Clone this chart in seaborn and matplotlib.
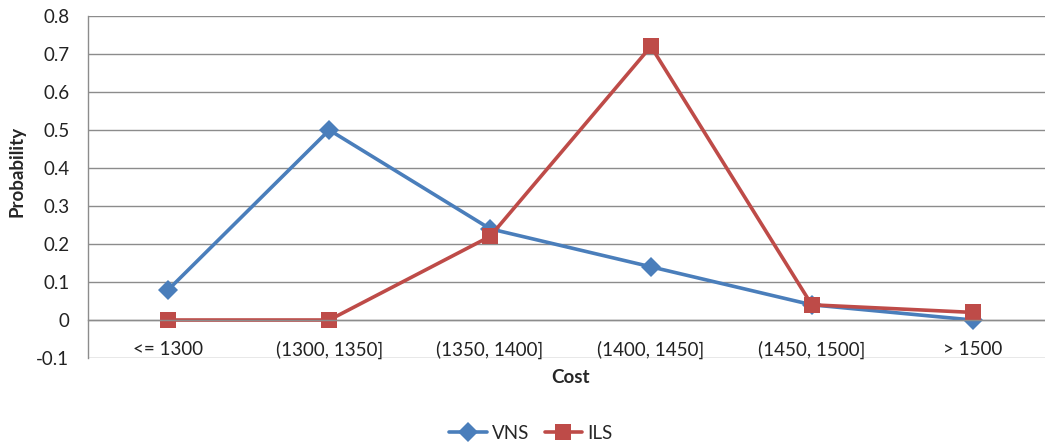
# line chart: probability of cost ranges, VNS vs ILS
import pandas as pd
import seaborn as sns
import matplotlib.pyplot as plt
from matplotlib.ticker import FixedLocator, FuncFormatter

sns.set_style("white")
plt.rcParams["font.family"] = ["Lato", "DejaVu Sans"]

categories = ["<= 1300", "(1300, 1350]", "(1350, 1400]", "(1400, 1450]", "(1450, 1500]", "> 1500"]
vns = [0.08, 0.50, 0.24, 0.14, 0.04, 0.00]
ils = [0.00, 0.00, 0.22, 0.72, 0.04, 0.02]
y_ticks = [-0.1, 0, 0.1, 0.2, 0.3, 0.4, 0.5, 0.6, 0.7, 0.8]

df = pd.DataFrame({
    "pos": list(range(len(categories))) * 2,
    "Probability": vns + ils,
    "method": ["VNS"] * len(vns) + ["ILS"] * len(ils),
})

grid_col = "#8c8c8c"
fs = 13.5
fig = plt.figure(figsize=(10.45, 4.44), dpi=100)
ax = fig.add_axes([88 / 1045, 1 - 358 / 444, 965 / 1045, 342 / 444])

sns.lineplot(data=df, x="pos", y="Probability", hue="method", style="method",
             palette={"VNS": "#4a7ebb", "ILS": "#be4b48"},
             markers={"VNS": "D", "ILS": "s"}, dashes=False,
             markersize=10, linewidth=2.6, markeredgewidth=0, sort=False,
             legend=False, ax=ax)
# squares a bit bigger than diamonds, like the original
for line in ax.lines:
    if line.get_marker() == "s":
        line.set_markersize(11)

ax.set_xlim(-0.5, 5.5)
ax.set_ylim(-0.1, 0.8)
ax.yaxis.set_major_locator(FixedLocator(y_ticks))
ax.yaxis.set_major_formatter(FuncFormatter(lambda v, p: "%g" % round(v, 2)))
ax.yaxis.grid(True, color=grid_col, linewidth=1)
ax.set_axisbelow(True)

# x axis sits at y = 0, ticks between categories, labels on categories
ax.spines["bottom"].set_position(("data", 0))
ax.xaxis.set_major_locator(FixedLocator([0.5, 1.5, 2.5, 3.5, 4.5]))
ax.xaxis.set_minor_locator(FixedLocator(range(len(categories))))
ax.set_xticklabels([], minor=False)
ax.set_xticklabels(categories, minor=True)
ax.tick_params(axis="x", which="major", direction="out", length=4, color=grid_col, width=1)
ax.tick_params(axis="x", which="minor", length=0, pad=15, labelsize=fs, labelcolor="#222222")
ax.tick_params(axis="y", direction="out", length=4.5, color=grid_col, width=1,
               pad=9, labelsize=fs, labelcolor="#222222")

for s in ["top", "right"]:
    ax.spines[s].set_visible(False)
for s in ["left", "bottom"]:
    ax.spines[s].set_color(grid_col)
    ax.spines[s].set_linewidth(1)

ax.set_xlabel("")
ax.set_ylabel("")
fig.text(17 / 1045, 1 - 171 / 444, "Probability", rotation=90, ha="center", va="center",
         fontsize=fs, fontweight="bold")
fig.text(571 / 1045, 1 - 377 / 444, "Cost", ha="center", va="center",
         fontsize=fs, fontweight="bold")

handles = [plt.Line2D([], [], color="#4a7ebb", marker="D", markersize=10, linewidth=2.6, markeredgewidth=0),
           plt.Line2D([], [], color="#be4b48", marker="s", markersize=11, linewidth=2.6, markeredgewidth=0)]
fig.legend(handles, ["VNS", "ILS"], loc="center", bbox_to_anchor=(531 / 1045, 1 - 433 / 444),
           ncol=2, frameon=False, fontsize=fs, handlelength=2.0, columnspacing=0.8, handletextpad=0.3)

plt.savefig("out.png", dpi=100)
